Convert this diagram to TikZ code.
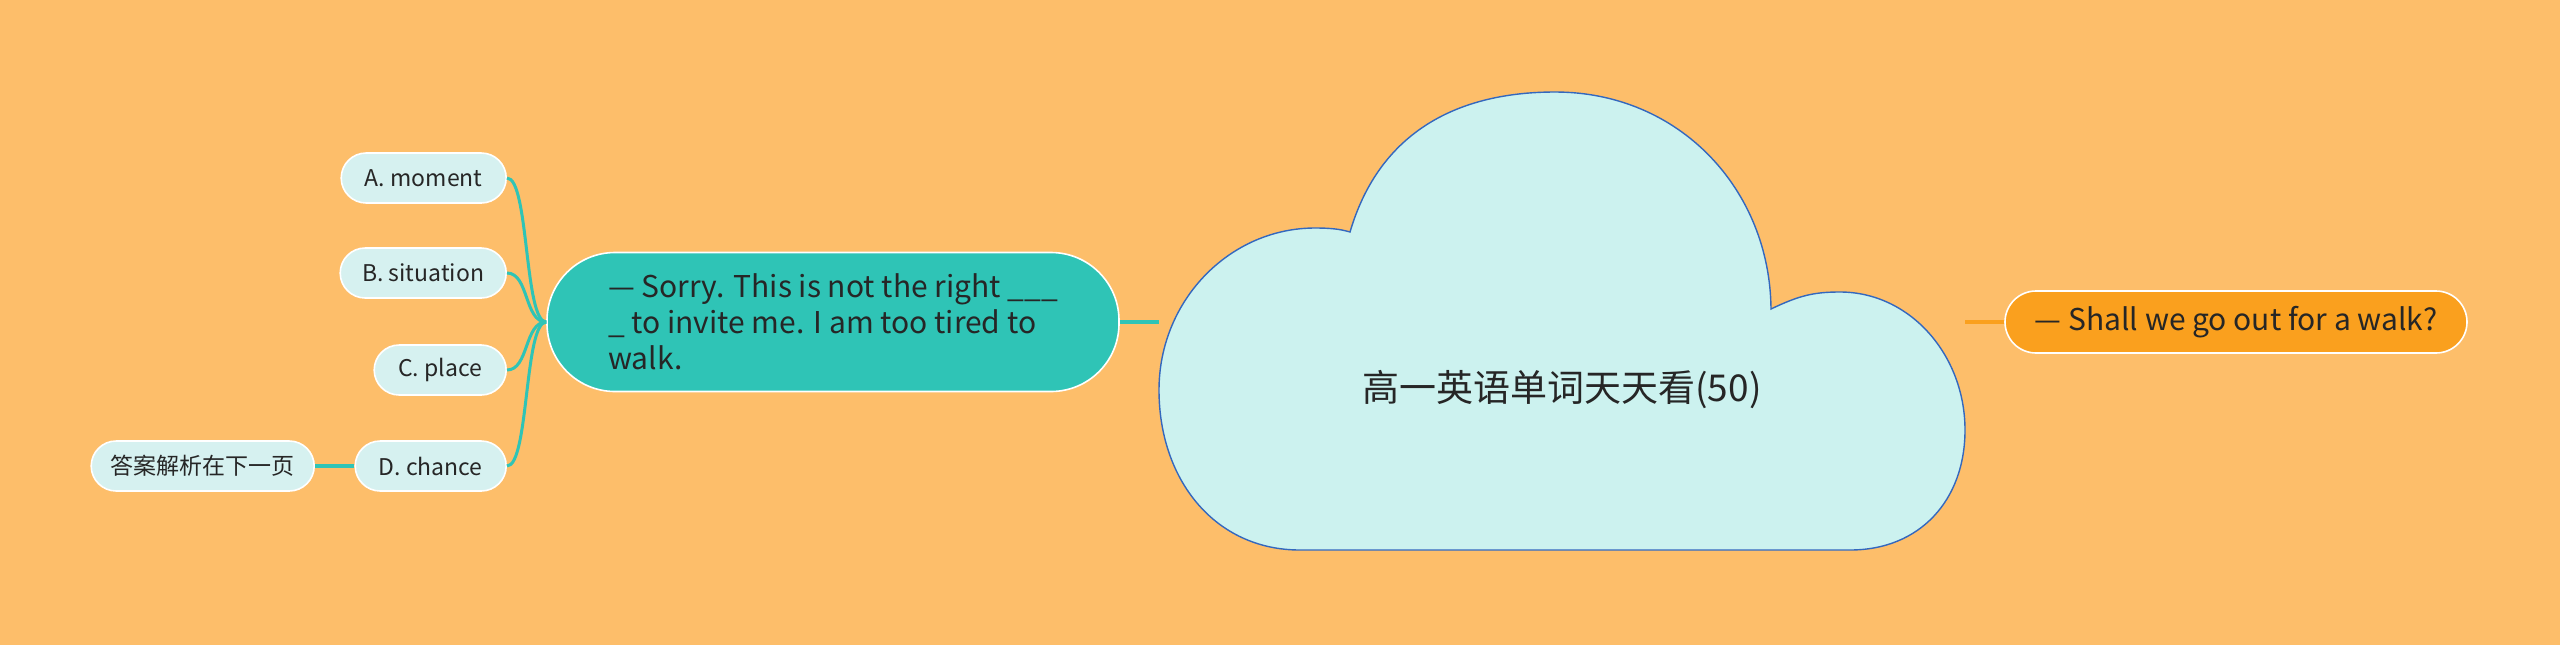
\documentclass[tikz,border=0pt]{standalone}
\usepackage{fontspec}
\setmainfont{Noto Sans CJK SC}
\usetikzlibrary{positioning}
\definecolor{bg}{RGB}{253,190,106}
\definecolor{cloudfill}{RGB}{204,242,239}
\definecolor{cloudline}{RGB}{52,104,190}
\definecolor{branch}{RGB}{47,196,182}
\definecolor{leaffill}{RGB}{214,241,240}
\definecolor{replyfill}{RGB}{250,160,30}

\begin{document}
\begin{tikzpicture}[x=0.5pt, y=-0.5pt,
    leaf/.style={rectangle, draw=white, line width=0.8pt, fill=leaffill, rounded corners=12.5pt, minimum height=25pt, inner sep=0pt, anchor=east, text=black!85, font=\fontsize{11.5pt}{14pt}\selectfont},
    topic/.style={rectangle, draw=white, line width=0.8pt, text=black!85, inner sep=0pt, font=\fontsize{15pt}{18pt}\selectfont},
    link/.style={draw=branch, line width=2pt},
    leaflink/.style={draw=branch, line width=1.5pt}
]
    \useasboundingbox (0,0) rectangle (2560,644);
    \fill[bg] (-10,-10) rectangle (2570,654);

    \filldraw[fill=cloudfill, draw=cloudline, line width=0.7pt]
        (1350,232) .. controls (1380,130) and (1460,92) .. (1555,92)
        .. controls (1680,92) and (1770,190) .. (1771,309)
        .. controls (1800,295) and (1815,292) .. (1840,292)
        .. controls (1910,292) and (1965,355) .. (1965,430)
        .. controls (1965,500) and (1920,550) .. (1850,550)
        -- (1300,550)
        .. controls (1215,550) and (1159,480) .. (1159,390)
        .. controls (1159,300) and (1230,228) .. (1315,228)
        .. controls (1330,228) and (1340,229) .. (1350,232) -- cycle;
    \coordinate (cloudw) at (1159,322);
    \coordinate (cloude) at (1965,322);
    \node[font=\fontsize{18.5pt}{22pt}\selectfont, text=black!85] (title) at (1562,390) {高一英语单词天天看(50)};

    \node[topic, fill=branch, rounded corners=34pt, minimum width=286pt, minimum height=69.5pt, align=left] (question) at (833,322) {— Sorry. This is not the right \_\_\_\\\_ to invite me. I am too tired to\\walk.};
    \node[topic, fill=replyfill, rounded corners=15.5pt, minimum width=231pt, minimum height=31pt] (reply) at (2236,322) {— Shall we go out for a walk?};

    \node[leaf, minimum width=82.5pt] (optA) at (507,178) {A. moment};
    \node[leaf, minimum width=83pt] (optB) at (507,273) {B. situation};
    \node[leaf, minimum width=66pt] (optC) at (507,370) {C. place};
    \node[leaf, minimum width=75.5pt] (optD) at (507,466) {D. chance};
    \node[leaf, minimum width=111.5pt] (hint) at (315,466) {答案解析在下一页};

    \draw[link] (question.east) -- (cloudw);
    \draw[draw=replyfill, line width=2pt] (cloude) -- (reply.west);
    \foreach \n in {optA, optB, optC, optD}
        \draw[leaflink] (\n.east) .. controls +(22,0) and +(-22,0) .. (question.west);
    \draw[link] (hint.east) -- (optD.west);
\end{tikzpicture}
\end{document}
